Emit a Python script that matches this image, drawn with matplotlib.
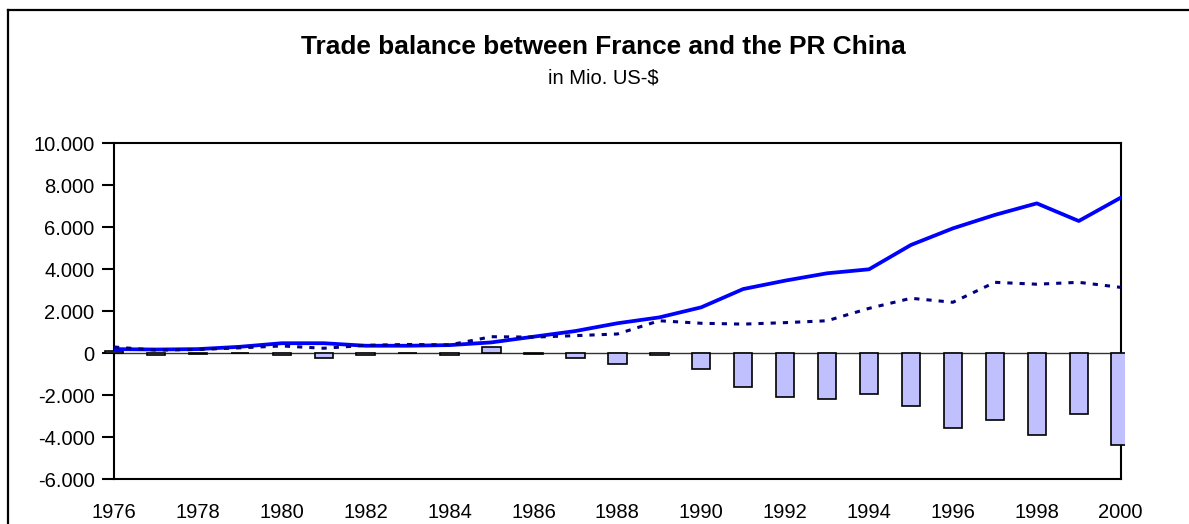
#!/usr/bin/env python3
"""Handelsbilanz Frankreich - VR China, 1976-2000."""
import matplotlib
matplotlib.use("Agg")
import matplotlib.pyplot as plt
from matplotlib.lines import Line2D
from matplotlib.patches import Rectangle
from matplotlib.ticker import FuncFormatter, MultipleLocator

years = list(range(1976, 2001))
# Importe aus China (durchgezogene Linie)
imports = [200, 180, 200, 310, 480, 480, 360, 360, 390, 520, 790, 1060, 1430,
           1710, 2190, 3060, 3460, 3810, 4000, 5160, 5950, 6590, 7140, 6300, 7410]
# Exporte nach China (gepunktete Linie)
exports = [300, 150, 180, 260, 350, 240, 380, 420, 400, 790, 770, 840, 920,
           1550, 1430, 1390, 1460, 1550, 2140, 2620, 2430, 3380, 3290, 3380, 3140]
# Saldo (Balken)
balance = [100, -60, -20, 10, -60, -210, -60, 0, -60, 290, -20, -210, -510,
           -100, -760, -1620, -2100, -2190, -1920, -2490, -3540, -3160, -3900, -2870, -4370]

W, H = 1189, 524
plt.rcParams["font.family"] = ["Liberation Sans", "DejaVu Sans"]

fig = plt.figure(figsize=(W / 100, H / 100), dpi=100)
ax = fig.add_axes([114 / W, 1 - 479.3 / H, (1120.7 - 114) / W, (479.3 - 143.3) / H])

bars = ax.bar(years, balance, width=0.44, color="#C0C0FF", edgecolor="black",
              linewidth=1.2, zorder=2.6)
clip = Rectangle((1975, -7000), 25.1, 20000, transform=ax.transData)
for b in bars:
    b.set_clip_path(clip)

ax.axhline(0, color="#333333", lw=1.0, zorder=2)
ax.plot(years, imports, color="#0000FF", lw=2.7, zorder=3, solid_joinstyle="round")
ax.plot(years, exports, color="#000080", lw=2.2, linestyle=(0, (1.7, 2.3)), zorder=3)

ax.set_xlim(1976, 2000)
ax.set_ylim(-6000, 10000)
ax.xaxis.set_major_locator(MultipleLocator(2))
ax.yaxis.set_major_locator(MultipleLocator(2000))
ax.yaxis.set_major_formatter(FuncFormatter(lambda v, p: f"{int(v):,}".replace(",", ".")))
ax.tick_params(axis="y", length=9, width=1.5, pad=5, labelsize=14.5)
ax.tick_params(axis="x", length=0, pad=17, labelsize=14.5)
for s in ax.spines.values():
    s.set_linewidth(1.5)

fig.text(603 / W, 1 - 54.3 / H, "Trade balance between France and the PR China",
         ha="center", va="baseline", fontsize=18.9, fontweight="bold")
fig.text(603 / W, 1 - 83.3 / H, "in Mio. US-$", ha="center", va="baseline", fontsize=14.5)

# Rahmen um das Diagramm (rechts/unten ausserhalb des Bildes)
fig.add_artist(Line2D([7.5 / W, 1.05], [1 - 9.5 / H] * 2, transform=fig.transFigure,
                      color="black", lw=1.6))
fig.add_artist(Line2D([7.5 / W] * 2, [-0.05, 1 - 9.5 / H], transform=fig.transFigure,
                      color="black", lw=1.6))

fig.savefig("out.png", dpi=100)
